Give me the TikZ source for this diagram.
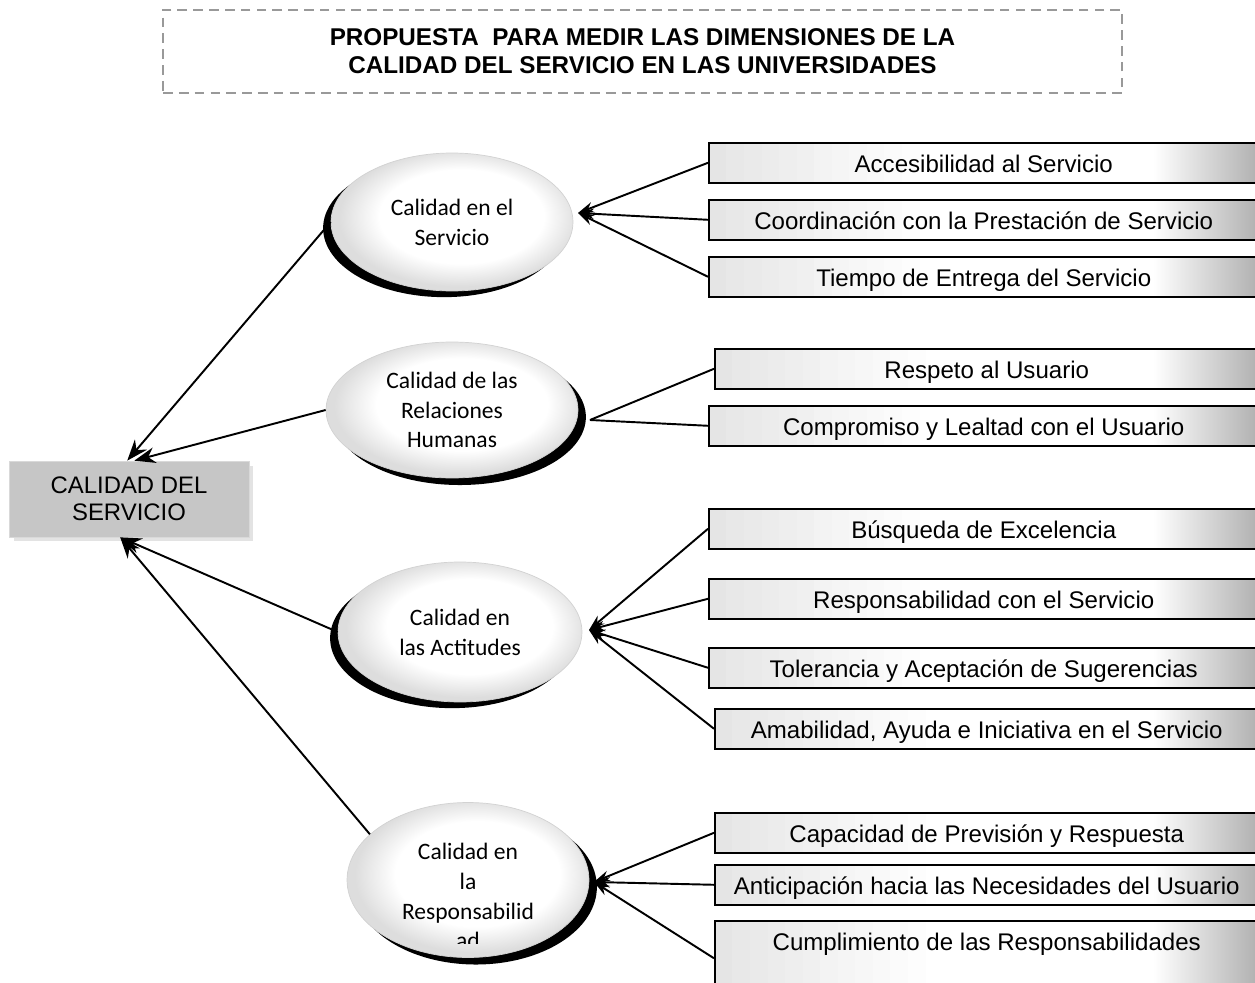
\documentclass[tikz,border=0pt]{standalone}
\usepackage{fontspec}
\setmainfont{Liberation Sans}
\newfontfamily\calfont{Carlito}
\usetikzlibrary{shapes.geometric,arrows.meta,shadows,calc}
\pgfdeclareradialshading{ellsh}{\pgfpoint{3bp}{3bp}}{color(0bp)=(white); color(17bp)=(white); color(25bp)=(gray!27); color(50bp)=(gray!27)}
\begin{document}
\begin{tikzpicture}[x=0.02cm,y=-0.02cm,
  rbox/.style={draw=black, line width=0.9pt, fill=white,
     path picture={
        \foreach \i in {0,...,11}{
          \pgfmathsetmacro{\g}{20-1.7*\i}
          \fill[gray!\g] ([xshift=\i*10pt]path picture bounding box.north west)
             rectangle ([xshift=\i*10pt+10.3pt]path picture bounding box.south west);}
        \shade[left color=white, right color=gray!62]
          ([xshift=-60pt]path picture bounding box.north east) rectangle (path picture bounding box.south east);},
     minimum width=11.0cm, inner ysep=0pt, text height=0.6cm, text depth=0.2cm, anchor=north west,
     font=\fontsize{13.7}{16}\selectfont},
  ell/.style={ellipse, draw=gray!35, line width=0.4pt, shading=ellsh,
     font=\calfont\fontsize{13.4}{17}\selectfont, align=center, inner sep=0pt},
  shl/.style={drop shadow={shadow xshift=-4.5pt, shadow yshift=-3.5pt, fill=black, opacity=1}},
  shr/.style={drop shadow={shadow xshift=4.5pt, shadow yshift=-4pt, fill=black, opacity=1}},
  link/.style={line width=1.1pt},
  arr/.style={line width=1.1pt, -{Stealth[length=9pt,width=6pt]}},
  bigarr/.style={line width=1.1pt, -{Stealth[length=12pt,width=9pt]}}
]
\useasboundingbox (0,0) rectangle (1255,983);

% title
\node[draw=gray!80, dashed, dash pattern=on 5.5pt off 3.5pt, line width=1pt,
  minimum width=19.18cm, minimum height=1.66cm, align=center,
  font=\bfseries\fontsize{13.8}{16}\selectfont] (title) at (642.5,51.5)
  {PROPUESTA\ \ PARA MEDIR LAS DIMENSIONES DE LA\\CALIDAD DEL SERVICIO EN LAS UNIVERSIDADES};

% main box
\fill[gray!22] (14,466) rectangle (253,541);
\node[fill=gray!45, draw=gray!30, minimum width=4.8cm, minimum height=1.52cm, align=center,
  font=\fontsize{13.6}{15.5}\selectfont] (m) at (129,499) {CALIDAD DEL\\SERVICIO};

% right boxes
\node[rbox] (b1) at (708,142) {Accesibilidad al Servicio};
\node[rbox] (b2) at (708,199) {Coordinación con la Prestación de Servicio};
\node[rbox] (b3) at (708,256) {Tiempo de Entrega del Servicio};
\node[rbox, minimum width=10.88cm] (b4) at (714,348) {Respeto al Usuario};
\node[rbox] (b5) at (708,405) {Compromiso y Lealtad con el Usuario};
\node[rbox] (b6) at (708,508) {Búsqueda de Excelencia};
\node[rbox] (b7) at (708,578) {Responsabilidad con el Servicio};
\node[rbox] (b8) at (708,647) {Tolerancia y Aceptación de Sugerencias};
\node[rbox, minimum width=10.88cm] (b9) at (714,708) {Amabilidad, Ayuda e Iniciativa en el Servicio};
\node[rbox, minimum width=10.88cm] (b10) at (714,812) {Capacidad de Previsión y Respuesta};
\node[rbox, minimum width=10.88cm] (b11) at (714,864) {Anticipación hacia las Necesidades del Usuario};
\node[rbox, minimum width=10.88cm, text depth=0.9cm] (b12) at (714,920) {Cumplimiento de las Responsabilidades};

% ellipses
\node[ell, shl, minimum width=4.84cm, minimum height=2.76cm] (e1) at (452,222) {Calidad en el\\Servicio};
\node[ell, shr, minimum width=5.04cm, minimum height=2.72cm] (e2) at (452,410) {Calidad de las\\Relaciones\\Humanas};
\node[ell, shl, minimum width=4.88cm, minimum height=2.8cm] (e3) at (460,632) {Calidad en\\las Actitudes};
\node[ell, shr, minimum width=4.84cm, minimum height=3.1cm] (e4) at (468,880) {};
\begin{scope}
\clip (340,800) rectangle (600,943);
\node[font=\calfont\fontsize{13.4}{17}\selectfont, align=center] (e4t) at (468,896)
  {Calidad en\\la\\Responsabilid\\ad};
\end{scope}

% convergence points
\coordinate (c1) at (578,213);
\coordinate (c2) at (590,420);
\coordinate (c3) at (589,630);
\coordinate (c4) at (594,882);

% connectors boxes -> ellipses
\draw[arr] (b1.west) -- (c1);
\draw[arr] (b2.west) -- (c1);
\draw[arr] (b3.west) -- (c1);
\draw[link] (b4.west) -- (c2);
\draw[link] (b5.west) -- (c2);
\draw[arr] (b6.west) -- (c3);
\draw[arr] (b7.west) -- (c3);
\draw[arr] (b8.west) -- (c3);
\draw[arr] (b9.west) -- (c3);
\draw[arr] (b10.west) -- (c4);
\draw[arr] (b11.west) -- (c4);
\draw[arr] (b12.west) -- (c4);

% ellipses -> main box
\draw[bigarr] (e1.west) -- ([xshift=-1pt]m.north);
\draw[bigarr] (e2.west) -- ([xshift=3pt]m.north);
\draw[bigarr] (e3.west) -- ([xshift=-5pt]m.south);
\draw[bigarr] (e4.155) -- ([xshift=-5pt]m.south);
\end{tikzpicture}
\end{document}
